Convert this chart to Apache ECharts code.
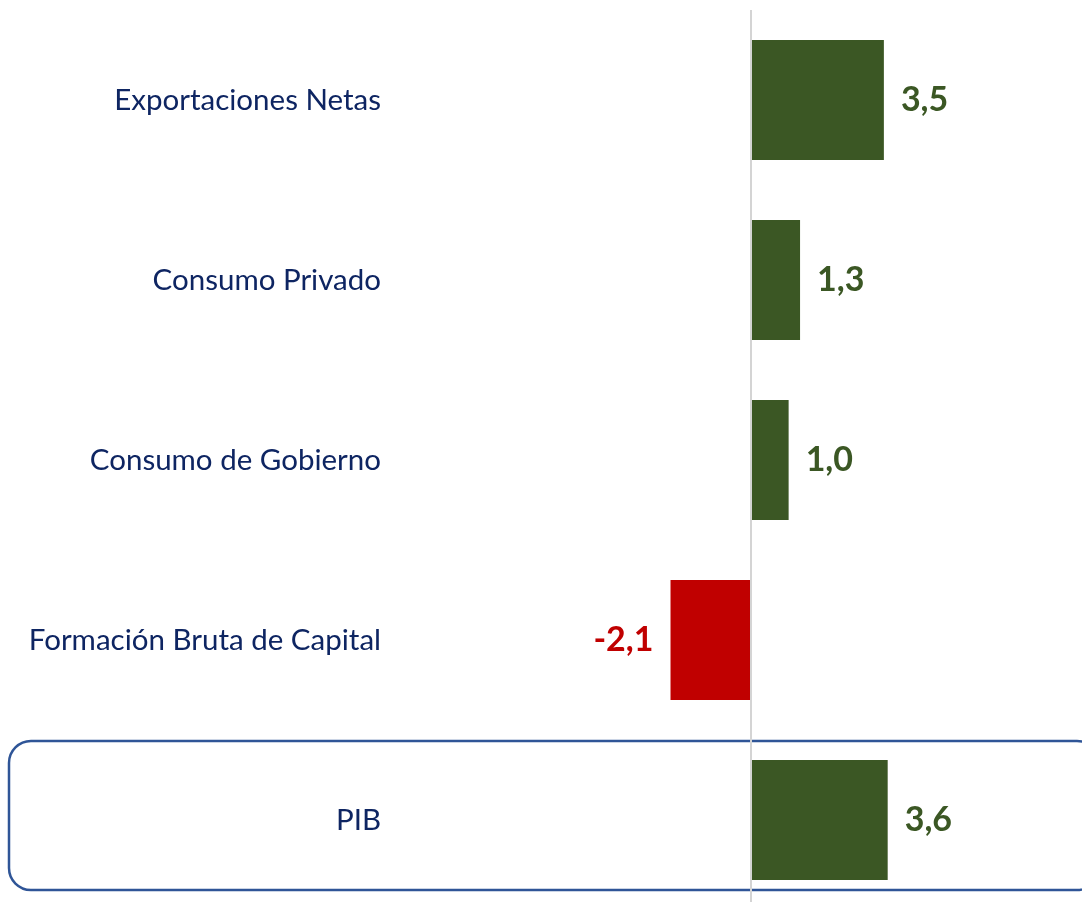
<!DOCTYPE html>
<html lang="es">
	<head>
		<meta charset="UTF-8">
		<title></title>
		<style type="text/css">
			html,
			body,
			#main {
				padding: 0;
				margin: 0;
				overflow: hidden;
				background-color: #ffffff;
				width: 1082px;
				height: 902px;
			}
		</style>
	</head>
	<body>
		<div id="main"></div>
		<script type="text/javascript" src="https://cdn.jsdelivr.net/npm/echarts@6/dist/echarts.min.js"></script>
		<script type="text/javascript">
			// categorias de arriba hacia abajo
			const categorias = ['Exportaciones Netas', 'Consumo Privado', 'Consumo de Gobierno', 'Formación Bruta de Capital', 'PIB'];
			const valores = [3.5, 1.3, 1.0, -2.1, 3.6];

			const verde = '#3b5724';
			const rojo = '#c00000';
			const azulTexto = '#0e2562';
			const fuente = 'Lato';

			const uiChart = echarts.init(document.getElementById('main'));

			const option = {
				animation: false,
				grid: { left: 400, right: 0, top: 10, height: 900, outerBoundsMode: 'none', containLabel: false },
				xAxis: {
					type: 'value',
					min: -9.2,
					max: 8.7,
					show: false
				},
				yAxis: {
					type: 'category',
					inverse: true,
					data: categorias,
					axisLine: { show: false },
					axisTick: { show: false },
					splitLine: { show: false },
					axisLabel: {
						margin: 19,
						color: azulTexto,
						fontFamily: fuente,
						fontSize: 29.5
					}
				},
				// recuadro del PIB
				graphic: [{
					type: 'rect',
					shape: { x: 9, y: 741, width: 1090, height: 149, r: 22 },
					style: { fill: 'none', stroke: '#2f5597', lineWidth: 2.5 },
					z: 0
				}],
				series: [{
					type: 'bar',
					barWidth: 120,
					data: valores.map(function (v) {
						return {
							value: v,
							itemStyle: { color: v < 0 ? rojo : verde },
							label: {
								position: v < 0 ? 'left' : 'right',
								color: v < 0 ? rojo : verde
							}
						};
					}),
					label: {
						show: true,
						distance: 17,
						fontFamily: fuente,
						fontWeight: 'bold',
						fontSize: 34,
						formatter: function (p) {
							return p.value.toFixed(1).replace('.', ',');
						}
					},
					markLine: {
						silent: true,
						symbol: 'none',
						label: { show: false },
						lineStyle: { color: '#d4d4d4', width: 2, type: 'solid' },
						data: [{ xAxis: 0 }]
					}
				}]
			};
			uiChart.setOption(option);
		</script>
	</body>
</html>
